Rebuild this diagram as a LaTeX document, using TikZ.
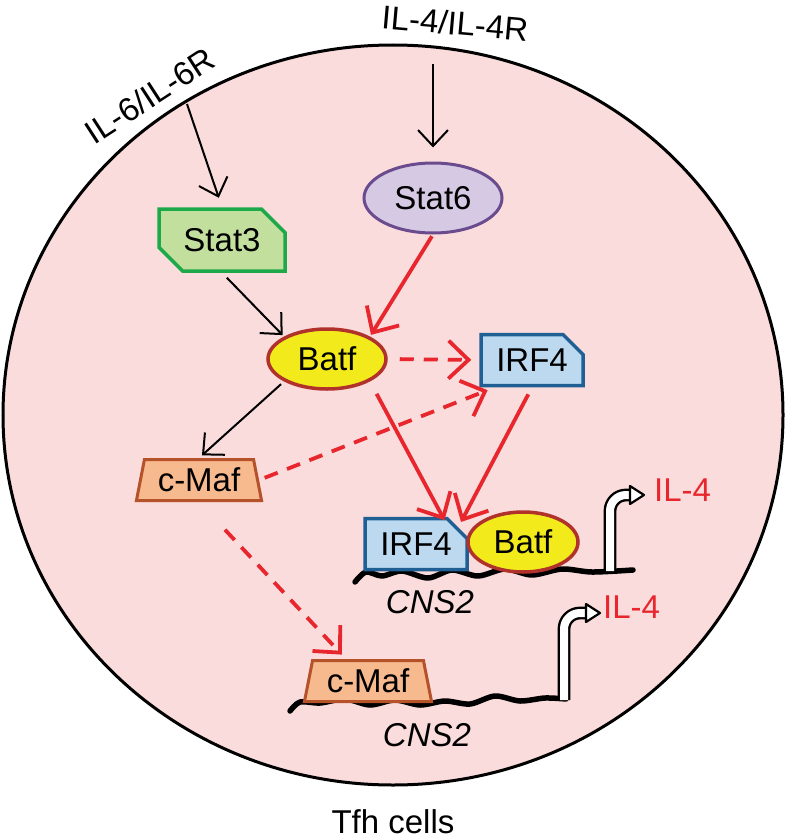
\documentclass[tikz,border=0pt]{standalone}
\usepackage{fontspec}
\setmainfont{Liberation Sans}
\usetikzlibrary{arrows.meta,shapes.geometric,shapes.misc,calc}
\definecolor{cellpink}{HTML}{FBDCDC}
\definecolor{ared}{HTML}{E8262E}
\definecolor{s3fill}{HTML}{C3DF9E}
\definecolor{s3line}{HTML}{1DA84A}
\definecolor{s6fill}{HTML}{D5C9E4}
\definecolor{s6line}{HTML}{6A4C8E}
\definecolor{bfill}{HTML}{F2EA1A}
\definecolor{bline}{HTML}{B0322A}
\definecolor{ifill}{HTML}{BCD9EF}
\definecolor{iline}{HTML}{1F5F94}
\definecolor{mfill}{HTML}{F7B98E}
\definecolor{mline}{HTML}{B5522A}
\tikzset{
  lbl/.style={font=\fontsize{33}{36}\selectfont, inner sep=0pt},
  barrow/.style={line width=2pt, -{Straight Barb[length=16pt,width=30pt]}},
  rarrow/.style={ared, line width=3.8pt, -{Straight Barb[length=20pt,width=38pt]}},
  rdash/.style={rarrow, dash pattern=on 14pt off 10pt},
  stat3box/.style={chamfered rectangle, chamfered rectangle corners={north east,south west}, chamfered rectangle xsep=12pt, chamfered rectangle ysep=12pt, draw=s3line, fill=s3fill, line width=3.5pt, minimum width=126pt, minimum height=62pt, inner sep=0pt, lbl},
  irfbox/.style={chamfered rectangle, chamfered rectangle corners={north east}, chamfered rectangle xsep=10pt, chamfered rectangle ysep=10pt, draw=iline, fill=ifill, line width=3.5pt, minimum width=102pt, minimum height=51pt, inner sep=0pt, lbl},
  batfell/.style={ellipse, draw=bline, fill=bfill, line width=3.5pt, inner sep=0pt, lbl},
  mafbox/.style={trapezium, trapezium stretches=true, trapezium left angle=76, trapezium right angle=76, draw=mline, fill=mfill, line width=3pt, minimum width=126pt, minimum height=41pt, inner sep=0pt, lbl},
  dna/.style={line width=5.5pt, line cap=round, line join=round},
  prom/.style={line width=2.4pt, double=white, double distance=8pt, line join=round},
}
\begin{document}
\begin{tikzpicture}[x=1pt,y=-1pt]
\useasboundingbox (0,0) rectangle (788,840);
% cell
\draw[fill=cellpink, line width=3pt] (393,415) ellipse [x radius=390, y radius=370];
% labels outside
\node[lbl, rotate=-5] (il4) at (455,23) {IL-4/IL-4R};
\node[lbl, rotate=33] (il6) at (150,96) {IL-6/IL-6R};
\node[lbl] (tfh) at (393,822) {Tfh cells};
% nodes
\node[ellipse, draw=s6line, fill=s6fill, line width=3pt, minimum width=138pt, minimum height=70pt, inner sep=0pt, lbl] (stat6) at (433,198) {Stat6};
\node[stat3box] (stat3) at (222,240) {Stat3};
\node[batfell, minimum width=118pt, minimum height=60pt] (batf) at (327,359) {Batf};
\node[irfbox] (irf4) at (532,360) {IRF4};
\node[mafbox] (cmaf) at (199,480) {c-Maf};
% DNA 1
\draw[dna] plot[smooth] coordinates {(355,582) (366,572) (382,576) (402,571) (428,578) (452,570) (478,576) (505,569) (532,575) (562,569) (592,572) (633,570)};
\node[irfbox] (cirf4) at (416,544) {IRF4};
\node[batfell, minimum width=110pt, minimum height=60pt] (cbatf) at (523,542) {Batf};
% promoter 1
\coordinate (p1a) at (610,571);
\coordinate (p1b) at (631,495);
\draw[prom] (p1a) -- (610,511) arc[start angle=180, end angle=270, radius=16] -- (p1b);
\draw[line width=2.2pt, fill=white, line join=round] ($(p1b)+(-1,-9)$) -- ($(p1b)+(13,0)$) -- ($(p1b)+(-1,9)$) -- cycle;
\node[lbl, text=ared, anchor=west] (il4a) at (654,490) {IL-4};
\node[lbl, font=\fontsize{33}{36}\selectfont\itshape] (cns1) at (430,602) {CNS2};
% DNA 2
\draw[dna] plot[smooth] coordinates {(290,711) (300,702) (320,703) (345,699) (370,705) (395,700) (420,705) (445,701) (470,704) (495,696) (520,701) (545,698) (566,699)};
\node[mafbox, minimum width=128pt] (cmaf2) at (368,681) {c-Maf};
% promoter 2
\coordinate (p2a) at (564,700);
\coordinate (p2b) at (587,613);
\draw[prom] (p2a) -- (564,629) arc[start angle=180, end angle=270, radius=16] -- (p2b);
\draw[line width=2.2pt, fill=white, line join=round] ($(p2b)+(-1,-9)$) -- ($(p2b)+(13,0)$) -- ($(p2b)+(-1,9)$) -- cycle;
\node[lbl, text=ared, anchor=west] (il4b) at (603,607) {IL-4};
\node[lbl, font=\fontsize{33}{36}\selectfont\itshape] (cns2) at (427,735) {CNS2};
% connectors
\coordinate (il4s) at (433,64);
\coordinate (il6s) at (187,104);
\draw[barrow, shorten >=14pt] (il4s) -- (stat6.north);
\draw[barrow, shorten >=10pt] (il6s) -- (stat3.north);
\draw[barrow, shorten <=7pt, shorten >=2pt] (stat3.south) -- (batf.north west);
\draw[rarrow, shorten <=2pt, shorten >=2pt] (stat6.south) -- (batf.north east);
\draw[rdash, shorten <=12pt, shorten >=8pt] (batf.east) -- (irf4.west);
\draw[barrow, shorten <=4pt, shorten >=4pt] (batf.south west) -- (cmaf.north);
\draw[rdash, shorten <=6pt, shorten >=8pt] (cmaf.east) -- ($(irf4.south west)!0.3!(irf4.south)$);
\draw[rarrow, shorten <=8pt, shorten >=6pt] (irf4.south) -- (cirf4.north east);
\draw[rarrow, shorten <=14pt, shorten >=8pt] (batf.south east) -- ($(cirf4.north east)+(-10,0)$);
\draw[rdash, shorten <=38pt, shorten >=6pt] (cmaf.south) -- (cmaf2.north west);
\end{tikzpicture}
\end{document}
